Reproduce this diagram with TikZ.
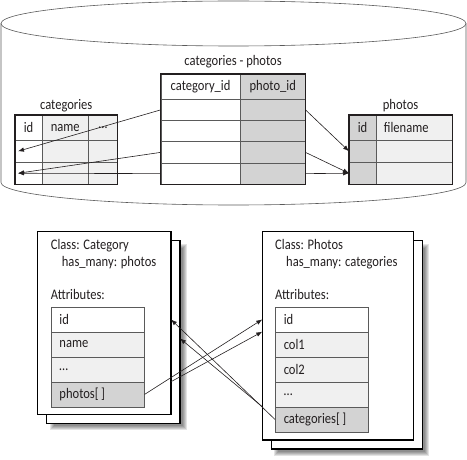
\documentclass[tikz,border=0pt]{standalone}
\usepackage{fontspec}
\setmainfont{Carlito}[FakeStretch=0.86]
\usepackage{tikz}
\usetikzlibrary{calc, arrows.meta}
\definecolor{lite}{HTML}{F0F0F0}
\definecolor{shade}{HTML}{D3D3D3}
\definecolor{rim}{HTML}{5A5A5A}
\definecolor{ink}{HTML}{231F20}

\tikzset{
  cell/.style={draw=rim, line width=0.5pt, inner sep=0pt, anchor=north west},
  attr/.style={draw=rim, line width=0.5pt, anchor=north west, minimum height=25pt,
               text width=76.3pt, inner xsep=8.5pt, inner ysep=0pt, align=left},
  frame/.style={draw=ink, line width=1.3pt},
  classbox/.style={draw=black, line width=1.3pt, fill=white, inner sep=0pt, outer sep=0pt, anchor=north west},
  txt/.style={inner sep=0pt, anchor=base west},
  title/.style={inner sep=0pt, anchor=base},
  link/.style={draw=ink, line width=0.6pt, -{Latex[length=6pt,width=4.5pt]}},
}

\begin{document}
\begin{tikzpicture}[x=1pt, y=-1pt, font=\fontsize{14.6}{17}\selectfont, text=ink]
  \useasboundingbox (0,0) rectangle (467,460);

  \draw[rim, line width=0.6pt] (233.5,23.5) ellipse [x radius=232.5pt, y radius=22.5pt];
  \draw[rim, line width=0.6pt] (1,23.5) -- (1,182.5)
        arc[start angle=180, end angle=360, x radius=232.5pt, y radius=22.5pt] -- (466,23.5);

  % categories
  \node[cell, minimum width=26.7pt, minimum height=25pt] (cat-id) at (15,115) {id};
  \node[cell, fill=lite, minimum width=46.6pt, minimum height=25pt] (cat-name) at (41.7,115) {name};
  \node[cell, fill=lite, minimum width=28.7pt, minimum height=25pt] (cat-more) at (88.3,115) {\dots};
  \foreach \r/\y in {1/140, 2/162} {
    \node[cell, minimum width=26.7pt, minimum height=22pt] (cat-id-\r) at (15,\y) {};
    \node[cell, fill=lite, minimum width=46.6pt, minimum height=22pt] (cat-name-\r) at (41.7,\y) {};
    \node[cell, fill=lite, minimum width=28.7pt, minimum height=22pt] (cat-more-\r) at (88.3,\y) {};
  }
  \draw[frame] (cat-id.north west) rectangle (cat-more-2.south east);
  \node[title] (cat-title) at ($(cat-id.north west)!.5!(cat-more.north east)+(0,-5.5)$) {categories};

  % categories - photos
  \node[cell, minimum width=79.3pt, minimum height=25pt] (jn-cid) at (160.7,74) {category\_id};
  \node[cell, fill=shade, minimum width=65pt, minimum height=25pt] (jn-pid) at (240,74) {photo\_id};
  \foreach \r/\y in {1/99, 2/120.25, 3/141.5, 4/162.75} {
    \node[cell, minimum width=79.3pt, minimum height=21.25pt] (jn-cid-\r) at (160.7,\y) {};
    \node[cell, fill=shade, minimum width=65pt, minimum height=21.25pt] (jn-pid-\r) at (240,\y) {};
  }
  \draw[frame] (jn-cid.north west) rectangle (jn-pid-4.south east);
  \node[title] (jn-title) at ($(jn-cid.north west)!.5!(jn-pid.north east)+(0,-8.5)$) {categories - photos};

  % photos
  \node[cell, fill=shade, minimum width=26.7pt, minimum height=25pt] (ph-id) at (349,115) {id};
  \node[cell, fill=lite, minimum width=76pt, minimum height=25pt, text width=60pt, align=left, inner xsep=8pt] (ph-file) at (375.7,115) {filename};
  \foreach \r/\y in {1/140, 2/162} {
    \node[cell, fill=shade, minimum width=26.7pt, minimum height=22pt] (ph-id-\r) at (349,\y) {};
    \node[cell, fill=lite, minimum width=76pt, minimum height=22pt] (ph-file-\r) at (375.7,\y) {};
  }
  \draw[frame] (ph-id.north west) rectangle (ph-file-2.south east);
  \node[title] (ph-title) at ($(ph-id.north west)!.5!(ph-file.north east)+(0,-5)$) {photos};

  \draw[link] (jn-cid-1.west) -- ([xshift=3pt]cat-id-1.west);
  \draw[link] (jn-cid-3.west) -- ([xshift=3pt]cat-id-2.west);
  \draw[link] (jn-cid-4.west) -- ([xshift=3pt]cat-id-2.west);
  \draw[link] (jn-pid-1.east) -- (ph-id-1.west);
  \draw[link] (jn-pid-3.east) -- (ph-id-2.west);
  \draw[link] (jn-pid-4.east) -- (ph-id-2.west);

  % class Category
  \foreach \b in {1,...,5}
    \fill[black, opacity=0.11] (54.7-\b,248.7-\b) rectangle (182+\b,425.3+\b);
  \node[classbox, minimum width=133.3pt, minimum height=182.6pt] (catcls-back) at (46.7,240.7) {};
  \node[classbox, minimum width=133.3pt, minimum height=182.6pt] (catcls) at (37.7,231.7) {};
  \node[txt] (catcls-name) at (50.7,249.3) {Class: Category};
  \node[txt] (catcls-has) at (61.7,266) {has\_many: photos};
  \node[txt] (catcls-attr) at (50.7,299) {Attributes:};
  \node[attr] (catattr-1) at (50.7,306.7) {id};
  \node[attr, fill=lite] (catattr-2) at (50.7,331.7) {name};
  \node[attr, fill=lite] (catattr-3) at (50.7,356.7) {\dots};
  \node[attr, fill=shade] (catattr-4) at (50.7,381.7) {photos[\,]};

  % class Photos
  \foreach \b in {1,...,5}
    \fill[black, opacity=0.11] (279.3-\b,248.7-\b) rectangle (424.3+\b,451+\b);
  \node[classbox, minimum width=151pt, minimum height=208.3pt] (phcls-back) at (271.3,240.7) {};
  \node[classbox, minimum width=151pt, minimum height=208.3pt] (phcls) at (262.3,231.7) {};
  \node[txt] (phcls-name) at (275,249.3) {Class: Photos};
  \node[txt] (phcls-has) at (286,266) {has\_many: categories};
  \node[txt] (phcls-attr) at (275,299) {Attributes:};
  \node[attr] (phattr-1) at (275,306.7) {id};
  \node[attr, fill=lite] (phattr-2) at (275,331.7) {col1};
  \node[attr, fill=lite] (phattr-3) at (275,356.7) {col2};
  \node[attr, fill=lite] (phattr-4) at (275,381.7) {\dots};
  \node[attr, fill=shade] (phattr-5) at (275,406.7) {categories[\,]};

  \draw[link] (catattr-4.east) -- (phcls.west |- phattr-1.west);
  \draw[link] (catcls.east |- catattr-4.north) -- (phcls.west |- phattr-2.north);
  \draw[link] (phattr-5.west) -- (catcls.east |- catattr-1.west);
  \draw[link] (phcls.west |- phattr-5.north) -- ($(catcls-back.east |- catattr-2.center)+(0,-6)$);
\end{tikzpicture}
\end{document}
